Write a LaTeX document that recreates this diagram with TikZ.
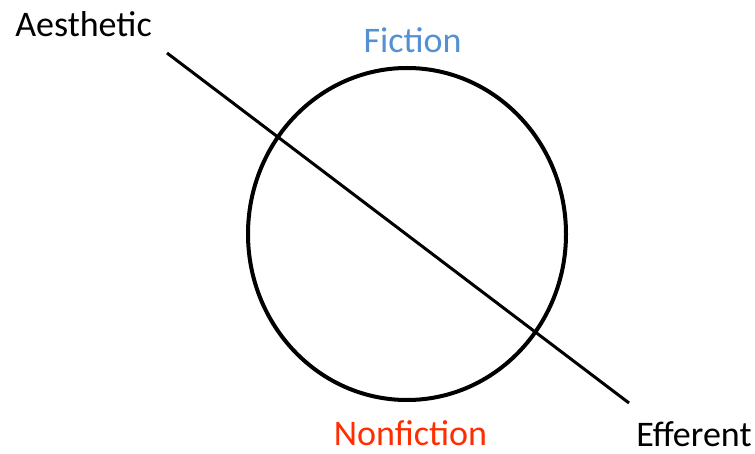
\documentclass[tikz,border=0pt]{standalone}
\usepackage{fontspec}
\setmainfont{Carlito}
\usetikzlibrary{shapes.geometric}
\definecolor{fictionblue}{RGB}{84,145,210}
\definecolor{nonfred}{RGB}{255,45,0}
\tikzset{
  lbl/.style={anchor=base, inner sep=0pt, text depth=0pt, font=\fontsize{36}{40}\selectfont},
  ring/.style={draw=black, line width=4pt, ellipse, inner sep=0pt, minimum width=318pt, minimum height=332pt},
  axis/.style={draw=black, line width=3pt}
}
\begin{document}
\begin{tikzpicture}[x=1pt,y=-1pt]
\useasboundingbox (0,0) rectangle (755,454);
\node[ring] (c) at (407,234) {};
\coordinate (s) at (167,53);
\coordinate (e) at (629,403);
\draw[axis] (s) -- (e);
\node[lbl] (a) at (83.5,36.5) {Aesthetic};
\node[lbl, text=fictionblue] (f) at (412.5,53) {Fiction};
\node[lbl, text=nonfred] (n) at (410.5,445) {Nonfiction};
\node[lbl] (ef) at (694,446) {Efferent};
\end{tikzpicture}
\end{document}
